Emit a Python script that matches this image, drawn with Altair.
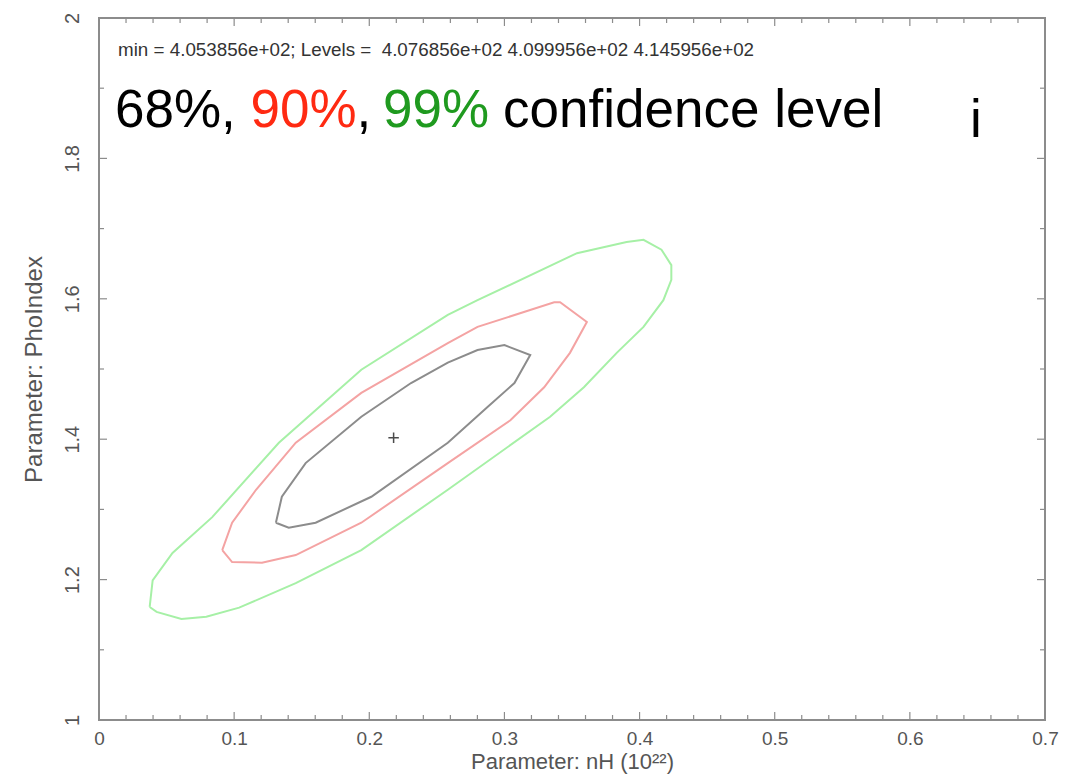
import altair as alt
import pandas as pd

# ---- data ----
green_x = [0.0375, 0.0397, 0.0544, 0.0838, 0.1331, 0.1941, 0.2581, 0.2801, 0.3537, 0.3904,
           0.4029, 0.4162, 0.4235, 0.4235, 0.4176, 0.4029, 0.3831, 0.3588, 0.3338, 0.2581,
           0.1941, 0.1456, 0.1037, 0.0794, 0.0610, 0.0426]
green_y = [1.161, 1.199, 1.238, 1.289, 1.395, 1.499, 1.577, 1.598, 1.665, 1.681,
           1.684, 1.670, 1.648, 1.627, 1.598, 1.560, 1.523, 1.474, 1.432, 1.328,
           1.242, 1.195, 1.160, 1.147, 1.144, 1.154]

red_x = [0.0912, 0.0985, 0.1162, 0.1456, 0.1941, 0.2581, 0.2801, 0.3368, 0.3412, 0.3610,
         0.3485, 0.3294, 0.3044, 0.2581, 0.1941, 0.1456, 0.1206, 0.0985]
red_y = [1.242, 1.281, 1.328, 1.395, 1.466, 1.537, 1.560, 1.595, 1.595, 1.567,
         1.523, 1.474, 1.427, 1.366, 1.281, 1.235, 1.224, 1.225]

black_x = [0.1309, 0.1353, 0.1529, 0.1941, 0.2309, 0.2581, 0.2801, 0.3000, 0.3191, 0.3074,
           0.2875, 0.2581, 0.2015, 0.1603, 0.1404]
black_y = [1.281, 1.318, 1.366, 1.432, 1.480, 1.509, 1.527, 1.534, 1.520, 1.480,
           1.446, 1.395, 1.318, 1.281, 1.274]

best_x = [0.218]
best_y = [1.402]

levels = ["68%", "90%", "99%"]
level_colors = ["#8c8c8c", "#f4a3a3", "#a6f0a6"]

x_major = [0, 0.1, 0.2, 0.3, 0.4, 0.5, 0.6, 0.7]
x_minor = [0.02, 0.04, 0.06, 0.08, 0.12, 0.14, 0.16, 0.18, 0.22, 0.24, 0.26, 0.28,
           0.32, 0.34, 0.36, 0.38, 0.42, 0.44, 0.46, 0.48, 0.52, 0.54, 0.56, 0.58,
           0.62, 0.64, 0.66, 0.68]
y_major = [1, 1.2, 1.4, 1.6, 1.8, 2]
y_minor = [1.1, 1.3, 1.5, 1.7, 1.9]

header_text = "min = 4.053856e+02; Levels =\u00a0 4.076856e+02 4.099956e+02 4.145956e+02"
big_texts = ["68%,", "90%", ",", "99%", "confidence level", "i"]
big_colors = ["#000000", "#ff2a12", "#000000", "#1f9a1f", "#000000", "#000000"]
big_x = [0.0118, 0.1121, 0.1905, 0.2101, 0.2990, 0.6445]
big_y = [1.8447, 1.8447, 1.8447, 1.8447, 1.8447, 1.8305]

# ---- build tables ----
rows = []
for lev, xs_, ys_ in [("99%", green_x, green_y), ("90%", red_x, red_y), ("68%", black_x, black_y)]:
    pts = list(zip(xs_, ys_)) + [(xs_[0], ys_[0])]
    for i, (a, b) in enumerate(pts):
        rows.append({"level": lev, "order": i, "x": a, "y": b})
contours = pd.DataFrame(rows)

W, H = 946, 702
FONT = "Liberation Sans"
TICK = "#8c8c8c"
xs = alt.Scale(domain=[0, 0.7], nice=False, zero=False)
ys = alt.Scale(domain=[1, 2], nice=False, zero=False)

x_axis = alt.Axis(values=x_major, format="~g", title="Parameter: nH (10²²)", grid=False,
                  ticks=False, domain=False, labelFont=FONT, labelFontSize=19,
                  labelColor="#555555", labelPadding=9, labelFlush=False, labelOverlap=False,
                  titleFont=FONT, titleFontSize=22, titleFontWeight="normal",
                  titleColor="#555555", titlePadding=3)
y_axis = alt.Axis(values=y_major, format="~g", title="Parameter: PhoIndex", grid=False,
                  ticks=False, domain=False, labelFont=FONT, labelFontSize=20,
                  labelColor="#555555", labelAngle=270, labelAlign="center",
                  labelBaseline="bottom", labelPadding=17, labelFlush=False, labelOverlap=False,
                  titleFont=FONT, titleFontSize=24, titleFontWeight="normal",
                  titleColor="#555555", titlePadding=16)

X = alt.X("x:Q", scale=xs, axis=x_axis)
Y = alt.Y("y:Q", scale=ys, axis=y_axis)

lines = alt.Chart(contours).mark_line(strokeWidth=2).encode(
    x=X, y=Y,
    color=alt.Color("level:N", scale=alt.Scale(domain=levels, range=level_colors), legend=None),
    detail="level:N",
    order="order:Q",
)

best = alt.Chart(pd.DataFrame({"x": best_x, "y": best_y})).mark_point(
    shape="M-1,0L1,0M0,-1L0,1", size=110, stroke="#000000", strokeWidth=1.5, filled=False
).encode(x=X, y=Y)


def xticks(vals, length):
    d = pd.DataFrame({"x": vals})
    bot = alt.Chart(d).mark_rule(color=TICK, strokeWidth=1.2).encode(
        x=X, y=alt.value(H), y2=alt.value(H - length))
    top = alt.Chart(d).mark_rule(color=TICK, strokeWidth=1.2).encode(
        x=X, y=alt.value(0), y2=alt.value(length))
    return [bot, top]


def yticks(vals, length):
    d = pd.DataFrame({"y": vals})
    lft = alt.Chart(d).mark_rule(color=TICK, strokeWidth=1.2).encode(
        y=Y, x=alt.value(0), x2=alt.value(length))
    rgt = alt.Chart(d).mark_rule(color=TICK, strokeWidth=1.2).encode(
        y=Y, x=alt.value(W), x2=alt.value(W - length))
    return [lft, rgt]


tick_layers = xticks(x_major, 8) + xticks(x_minor, 5) + yticks(y_major, 8) + yticks(y_minor, 5)

header = alt.Chart(pd.DataFrame({"x": [0.0141], "y": [1.9459], "t": [header_text]})).mark_text(
    align="left", baseline="alphabetic", font=FONT, fontSize=18.8, color="#333333"
).encode(x=X, y=Y, text="t:N")

big = alt.Chart(pd.DataFrame({"x": big_x, "y": big_y, "t": big_texts, "c": big_colors})).mark_text(
    align="left", baseline="alphabetic", font=FONT, fontSize=53
).encode(x=X, y=Y, text="t:N", color=alt.Color("c:N", scale=None))

chart = alt.layer(lines, best, *tick_layers, header, big).properties(
    width=W, height=H,
    padding={"left": 91, "top": 10, "right": 14, "bottom": 55},
    autosize=alt.AutoSizeParams(type="none"),
    background="white",
).configure_view(stroke="#8c8c8c", strokeWidth=2)

chart.save("out.html", embed_options={"renderer": "svg", "actions": False})
